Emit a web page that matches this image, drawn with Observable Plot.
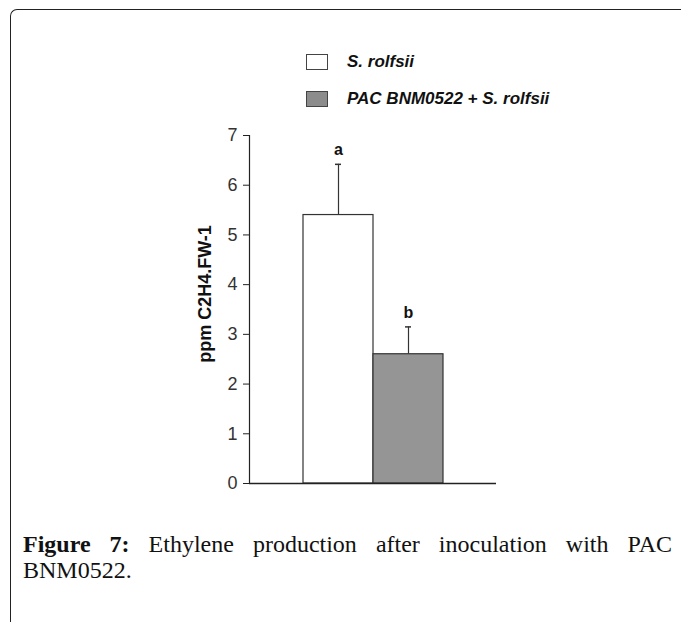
<!DOCTYPE html>
<html>
<head>
<meta charset="utf-8">
<script src="https://cdn.jsdelivr.net/npm/d3@7"></script>
<script src="https://cdn.jsdelivr.net/npm/@observablehq/plot@0.6"></script>
<style>
  html, body { margin: 0; padding: 0; background: #fff; }
  #wrap { position: relative; width: 681px; height: 622px; overflow: hidden; background: #fff; }
  #border { position: absolute; left: 10px; top: 9px; width: 720px; height: 700px;
            border-left: 1.6px solid #222; border-top: 1.6px solid #222; border-top-left-radius: 7px; }
  #chart { position: absolute; left: 0; top: 0; }
  .leg-row { position: absolute; left: 306px; height: 17px; display: flex; align-items: center; }
  .leg-box { width: 20px; height: 14px; border: 1.5px solid #444; box-sizing: content-box; }
  .leg-text { position: absolute; left: 41px; white-space: nowrap; font: italic bold 17px "Liberation Sans", Arial, sans-serif; color: #111; }
  #ylabel { position: absolute; left: 205px; top: 294px; transform: translate(-50%, -50%) rotate(-90deg);
            white-space: nowrap; font: bold 18px "Liberation Sans", Arial, sans-serif; color: #111; }
  #caption { position: absolute; left: 23px; top: 531px; width: 649px;
             font: 24px/26px "Liberation Serif", "DejaVu Serif", serif; color: #111; }
  #caption .l1 { text-align: justify; text-align-last: justify; white-space: nowrap; }
  #caption .l1 { white-space: normal; }
  #caption b { font-weight: bold; }
</style>
</head>
<body>
<div id="wrap">
  <div id="border"></div>
  <div id="chart"></div>
  <div id="legend"></div>
  <div id="ylabel"></div>
  <div id="caption"></div>
</div>
<script>
// ---- data ----
const groups = ["S. rolfsii", "PAC BNM0522 + S. rolfsii"];
const means = [5.4, 2.6];
const errors = [1.02, 0.55];
const letters = ["a", "b"];
const fills = ["#ffffff", "#959595"];
const yTicks = [0, 1, 2, 3, 4, 5, 6, 7];
const yLabel = "ppm C2H4.FW-1";
const captionBold = "Figure 7:";
const captionLine1 = "Ethylene production after inoculation with PAC";
const captionLine2 = "BNM0522.";

const data = groups.map((g, i) => ({group: g, mean: means[i], err: errors[i], top: means[i] + errors[i], letter: letters[i], fill: fills[i]}));

const plot = Plot.plot({
  width: 681,
  height: 500,
  marginLeft: 249,
  marginRight: 185,
  marginTop: 135,
  marginBottom: 17,
  style: {background: "transparent", color: "#222", fontFamily: "'Liberation Sans', Arial, sans-serif"},
  x: {domain: groups, paddingInner: 0, paddingOuter: 0.75, axis: null},
  y: {domain: [0, 7], axis: null},
  marks: [
    Plot.ruleX(data, {x: "group", y1: "mean", y2: "top", stroke: "#333", strokeWidth: 1.2}),
    Plot.tickY(data, {x: "group", y: "top", stroke: "#333", strokeWidth: 1.5, insetLeft: 32, insetRight: 32}),
    Plot.barY(data, {x: "group", y: "mean", fill: "fill", stroke: "#333", strokeWidth: 1.2, inset: 0}),
    Plot.text(data, {x: "group", y: "top", text: "letter", dy: -9, lineAnchor: "bottom", fontWeight: "bold", fontSize: 16, fill: "#111"}),
    Plot.axisY({ticks: yTicks, tickSize: 6, tickPadding: 6, fontSize: 18, label: null, stroke: "#222", fill: "#333", tickFormat: d3.format("d")}),
    Plot.frame({anchor: "left", stroke: "#222", strokeWidth: 1.2}),
    Plot.ruleY([0], {stroke: "#222", strokeWidth: 1.5})
  ]
});
document.getElementById("chart").appendChild(plot);

// legend
const legend = document.getElementById("legend");
const legTops = [53, 90];
groups.forEach((g, i) => {
  const row = document.createElement("div");
  row.className = "leg-row";
  row.style.top = legTops[i] + "px";
  const box = document.createElement("div");
  box.className = "leg-box";
  box.style.background = i === 0 ? fills[0] : "#8c8c8c";
  const txt = document.createElement("div");
  txt.className = "leg-text";
  txt.textContent = g;
  row.appendChild(box);
  row.appendChild(txt);
  legend.appendChild(row);
});

document.getElementById("ylabel").textContent = yLabel;
const cap = document.getElementById("caption");
const l1 = document.createElement("div");
l1.className = "l1";
const b = document.createElement("b");
b.textContent = captionBold;
const rest = document.createElement("span");
rest.textContent = captionLine1;
l1.appendChild(b);
l1.appendChild(document.createTextNode(" "));
l1.appendChild(rest);
const l2 = document.createElement("div");
l2.textContent = captionLine2;
cap.appendChild(l1);
cap.appendChild(l2);
</script>
</body>
</html>
